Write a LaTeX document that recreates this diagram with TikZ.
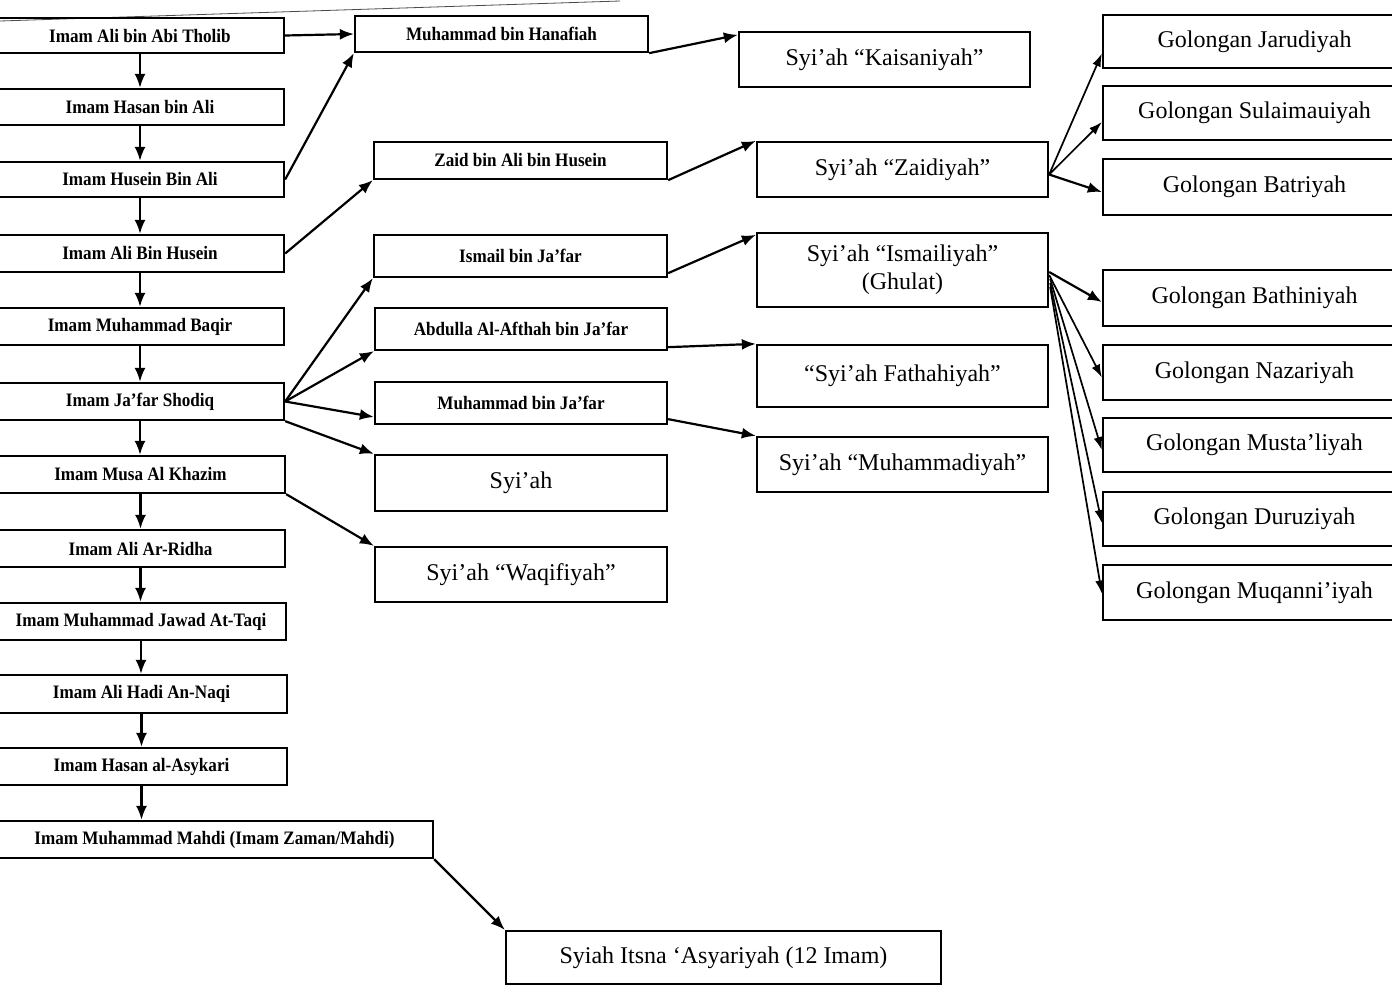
\documentclass[tikz,border=0pt]{standalone}
\usepackage{fontspec}
\setmainfont{Liberation Serif}
\newfontfamily\condfont[FakeStretch=0.9]{Liberation Serif}
\usetikzlibrary{arrows.meta,calc}
\newcommand\bx[7]{\node[#6, minimum width={(#4)-(#2)}, minimum height={(#5)-(#3)}] (#1) at ({((#2)+(#4))/2},{((#3)+(#5))/2}) {#7};}
\begin{document}
\begin{tikzpicture}[x=1pt,y=-1pt,
  box/.style={draw, line width=2.3pt, inner sep=0pt, rectangle, align=center},
  sm/.style={box, font=\condfont\bfseries\fontsize{19}{21}\selectfont},
  lg/.style={box, font=\fontsize{24}{28}\selectfont},
  arr/.style={line width=2.2pt, -{Latex[length=14pt,width=11pt]}},
  tarr/.style={line width=1.7pt, -{Latex[length=13pt,width=9pt]}}]
\useasboundingbox (0,0) rectangle (1392,986);
\clip (0,0) rectangle (1392,986);
\fill[white] (0,0) rectangle (1392,986);
% faint scan line at top
\draw[line width=0.8pt, black!70] (0,21) -- (620,1);
% left column
\bx{a1}{-4}{18}{284}{53}{sm}{Imam Ali bin Abi Tholib}
\bx{a2}{-4}{89}{284}{125}{sm}{Imam Hasan bin Ali}
\bx{a3}{-4}{162}{284}{197}{sm}{Imam Husein Bin Ali}
\bx{a4}{-4}{235}{284}{272}{sm}{Imam Ali Bin Husein}
\bx{a5}{-4}{308}{284}{345}{sm}{Imam Muhammad Baqir}
\bx{a6}{-4}{383}{284}{420}{sm}{Imam Ja’far Shodiq}
\bx{a7}{-4}{456}{285}{493}{sm}{Imam Musa Al Khazim}
\bx{a8}{-4}{530}{285}{567}{sm}{Imam Ali Ar-Ridha}
\bx{a9}{-4}{603}{286}{640}{sm}{Imam Muhammad Jawad At-Taqi}
\bx{a10}{-4}{675}{287}{713}{sm}{Imam Ali Hadi An-Naqi}
\bx{a11}{-4}{748}{287}{785}{sm}{Imam Hasan al-Asykari}
\bx{a12}{-4}{821}{433}{858}{sm}{Imam Muhammad Mahdi (Imam Zaman/Mahdi)}
% middle column
\bx{m1}{355}{16}{648}{52}{sm}{Muhammad bin Hanafiah}
\bx{m2}{374}{142}{667}{179}{sm}{Zaid bin Ali bin Husein}
\bx{m3}{374}{235}{667}{277}{sm}{Ismail bin Ja’far}
\bx{m4}{375}{308}{667}{350}{sm}{Abdulla Al-Afthah bin Ja’far}
\bx{m5}{375}{382}{667}{424}{sm}{Muhammad bin Ja’far}
\bx{m6}{375}{455}{667}{511}{lg}{Syi’ah}
\bx{m7}{375}{547}{667}{602}{lg}{Syi’ah “Waqifiyah”}
% right-middle column
\bx{r1}{739}{32}{1030}{87}{lg}{Syi’ah “Kaisaniyah”}
\bx{r2}{757}{142}{1048}{197}{lg}{Syi’ah “Zaidiyah”}
\bx{r3}{757}{233}{1048}{307}{lg}{Syi’ah “Ismailiyah”\\(Ghulat)}
\bx{r4}{757}{345}{1048}{407}{lg}{“Syi’ah Fathahiyah”}
\bx{r5}{757}{437}{1048}{492}{lg}{Syi’ah “Muhammadiyah”}
% far right column
\bx{g1}{1103}{15}{1406}{68}{lg}{Golongan Jarudiyah}
\bx{g2}{1103}{86}{1406}{140}{lg}{Golongan Sulaimauiyah}
\bx{g3}{1103}{159}{1406}{215}{lg}{Golongan Batriyah}
\bx{g4}{1103}{270}{1406}{326}{lg}{Golongan Bathiniyah}
\bx{g5}{1103}{345}{1406}{400}{lg}{Golongan Nazariyah}
\bx{g6}{1103}{418}{1406}{472}{lg}{Golongan Musta’liyah}
\bx{g7}{1103}{492}{1406}{546}{lg}{Golongan Duruziyah}
\bx{g8}{1103}{565}{1406}{620}{lg}{Golongan Muqanni’iyah}
% bottom
\bx{b}{506}{931}{941}{984}{lg}{Syiah Itsna ‘Asyariyah (12 Imam)}
% vertical chain
\foreach \i/\j in {1/2,2/3,3/4,4/5,5/6,6/7,7/8,8/9,9/10,10/11,11/12}
  \draw[arr] (a\i.south) -- (a\i.south |- a\j.north);
% branches
\draw[arr] (a1.east) -- (m1.west);
\draw[arr] (a3.east) -- (m1.south west);
\draw[arr] (m1.south east) -- ($(r1.north west)+(0,4)$);
\draw[arr] (a4.east) -- (m2.south west);
\draw[arr] (m2.south east) -- (r2.north west);
\draw[arr] (a6.east) -- (m3.south west);
\draw[arr] (a6.east) -- (m4.south west);
\draw[arr] (a6.east) -- ($(m5.west)+(0,14)$);
\draw[arr] (a6.south east) -- (m6.north west);
\draw[arr] (a7.south east) -- (m7.north west);
\draw[arr] ($(m3.south east)+(0,-5)$) -- ($(r3.north west)+(0,3)$);
\draw[arr] ($(m4.south east)+(0,-4)$) -- (r4.north west);
\draw[arr] ($(m5.south east)+(0,-6)$) -- (r5.north west);
\draw[arr] (a12.south east) -- (b.north west);
% Zaidiyah fan
\draw[tarr] ($(r2.east)+(0,5)$) -- ($(g1.west)+(0,12)$);
\draw[tarr] ($(r2.east)+(0,5)$) -- ($(g2.west)+(0,9)$);
\draw[arr] ($(r2.east)+(0,5)$) -- ($(g3.west)+(0,5)$);
% Ismailiyah fan
\draw[arr] ($(r3.east)+(0,2)$) -- ($(g4.west)+(0,4)$);
\draw[tarr] ($(r3.east)+(0,5)$) -- ($(g5.west)+(0,5)$);
\draw[tarr] ($(r3.east)+(1,9)$) -- ($(g6.west)+(0,5)$);
\draw[tarr] ($(r3.east)+(1,13)$) -- ($(g7.west)+(0,4)$);
\draw[tarr] ($(r3.east)+(1,17)$) -- ($(g8.west)+(0,1)$);
\end{tikzpicture}
\end{document}
